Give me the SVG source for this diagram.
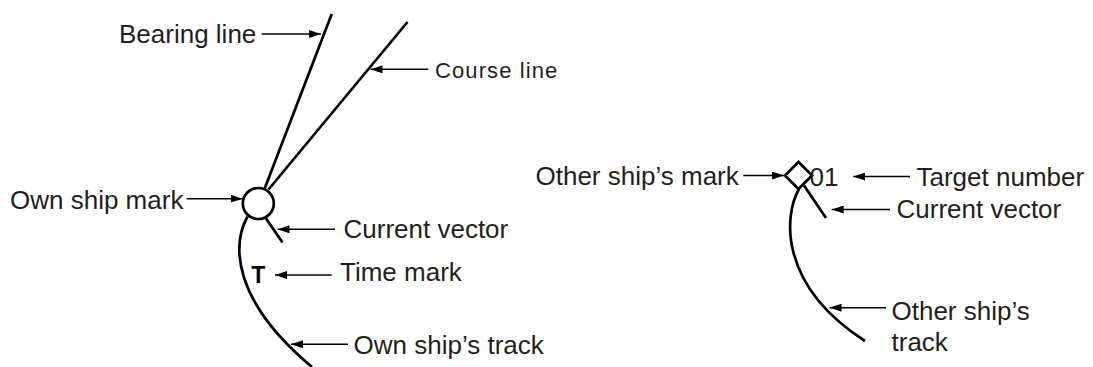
<svg xmlns="http://www.w3.org/2000/svg" width="1093" height="367" viewBox="0 0 1093 367">
<defs>
<style>
.lbl{font-family:"Liberation Sans",Arial,Helvetica,sans-serif;font-size:26px;fill:#231f20}
.crs{font-family:"Liberation Sans",Arial,sans-serif;font-size:22px;letter-spacing:1.1px;fill:#231f20}
.tm{font-family:"Liberation Sans",Arial,sans-serif;font-size:23px;font-weight:bold;fill:#000}
.sym{fill:none;stroke:#000;stroke-width:2.7;stroke-linecap:butt}
.ldr{fill:none;stroke:#000;stroke-width:1.4}
</style>
<marker id="ah" viewBox="0 0 12 8" refX="12" refY="4" markerWidth="12" markerHeight="8" markerUnits="userSpaceOnUse" orient="auto">
<path d="M0,0 L12,4 L0,8 Z" fill="#000"/>
</marker>
</defs>
<rect width="1093" height="367" fill="#fff"/>

<g id="own-ship">
<line class="sym" x1="264.5" y1="189" x2="331.7" y2="14"/>
<line class="sym" x1="268.5" y1="189.5" x2="407.5" y2="22"/>
<circle class="sym" cx="258.3" cy="203.5" r="15.5"/>
<line class="sym" x1="266" y1="218.5" x2="282.5" y2="242.5"/>
<path class="sym" d="M247.5,216.5 C232,245 232,300 312,367"/>
<text class="tm" x="258.3" y="283" text-anchor="middle">T</text>
</g>

<g id="other-ship">
<path class="sym" d="M785,175.5 L798.5,162 L812,175.5 L798.5,189 Z"/>
<line class="sym" x1="804" y1="185.5" x2="826" y2="218"/>
<path class="sym" d="M799,189 C784,215 778,285 865,341"/>
<text class="lbl" x="809.5" y="185.7">01</text>
</g>

<g id="labels">
<text class="lbl" x="119" y="42.7">Bearing line</text>
<text class="crs" x="435" y="78.3">Course line</text>
<text class="lbl" x="10" y="209.3">Own ship mark</text>
<text class="lbl" x="343.5" y="238.3">Current vector</text>
<text class="lbl" x="340" y="280.7">Time mark</text>
<text class="lbl" x="353.5" y="354">Own ship’s track</text>
<text class="lbl" x="535.5" y="185">Other ship’s mark</text>
<text class="lbl" x="916.5" y="185.7">Target number</text>
<text class="lbl" x="896.5" y="218.3">Current vector</text>
<text class="lbl" x="891.5" y="320">Other ship’s</text>
<text class="lbl" x="891.5" y="351">track</text>
</g>

<g id="connectors">
<line class="ldr" x1="261.7" y1="34" x2="321" y2="34" marker-end="url(#ah)"/>
<line class="ldr" x1="428.3" y1="69.3" x2="370.5" y2="69.3" marker-end="url(#ah)"/>
<line class="ldr" x1="186.7" y1="198.7" x2="242.5" y2="198.7" marker-end="url(#ah)"/>
<line class="ldr" x1="335" y1="229.3" x2="277.5" y2="229.3" marker-end="url(#ah)"/>
<line class="ldr" x1="331.7" y1="275" x2="275" y2="275" marker-end="url(#ah)"/>
<line class="ldr" x1="348" y1="344.3" x2="291" y2="344.3" marker-end="url(#ah)"/>
<line class="ldr" x1="743.3" y1="175.5" x2="784" y2="175.5" marker-end="url(#ah)"/>
<line class="ldr" x1="910" y1="176.5" x2="853.3" y2="176.5" marker-end="url(#ah)"/>
<line class="ldr" x1="890" y1="209.5" x2="831.7" y2="209.5" marker-end="url(#ah)"/>
<line class="ldr" x1="886" y1="307.7" x2="829.5" y2="307.7" marker-end="url(#ah)"/>
</g>
</svg>
